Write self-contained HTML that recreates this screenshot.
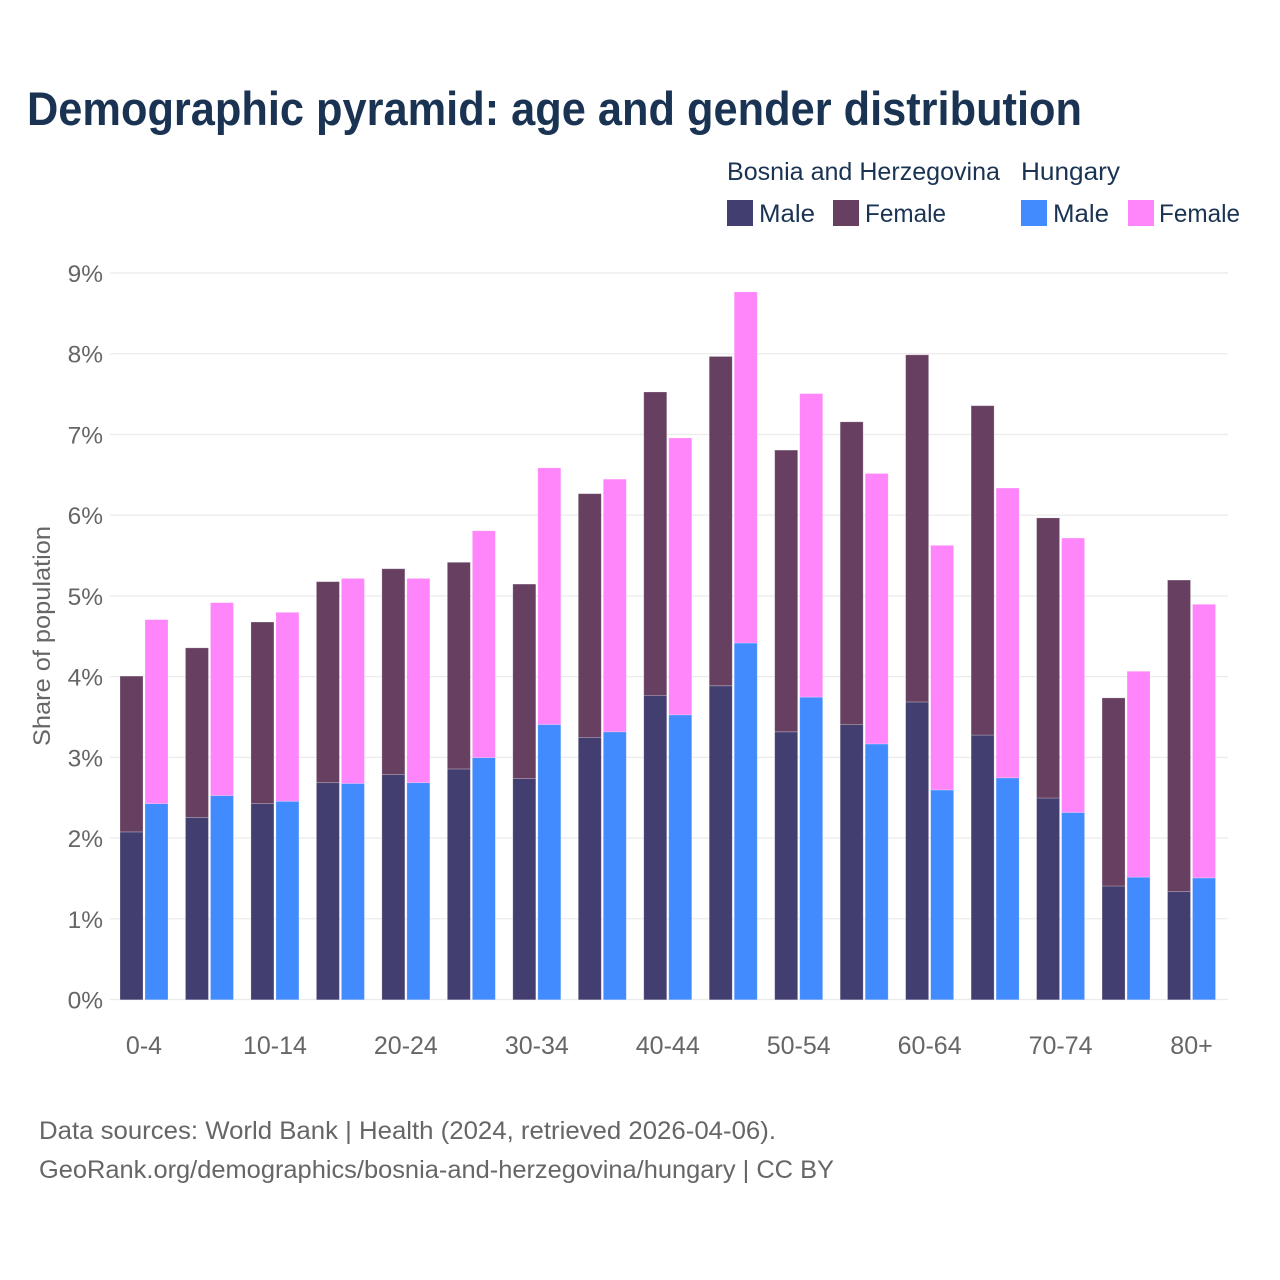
<!DOCTYPE html>
<html lang="en">
<head>
<meta charset="utf-8">
<title>Demographic pyramid: age and gender distribution</title>
<style>
html,body{margin:0;padding:0;background:#fff;}
svg{display:block;font-family:"Liberation Sans",sans-serif;}
</style>
</head>
<body>
<svg id="chart" xmlns="http://www.w3.org/2000/svg" width="1280" height="1280" viewBox="0 0 1280 1280">
  <rect x="0" y="0" width="1280" height="1280" fill="#ffffff"/>
  <text x="27" y="125" font-size="47" font-weight="700" fill="#1a3353" textLength="1055" lengthAdjust="spacingAndGlyphs">Demographic pyramid: age and gender distribution</text>

  <g font-size="25" fill="#1a3353">
    <text x="727" y="180" textLength="273" lengthAdjust="spacingAndGlyphs">Bosnia and Herzegovina</text>
    <text x="1021" y="180" textLength="99" lengthAdjust="spacingAndGlyphs">Hungary</text>
    <rect x="727" y="200" width="26" height="26" fill="#433e70"/>
    <text x="759" y="222" textLength="56" lengthAdjust="spacingAndGlyphs">Male</text>
    <rect x="833" y="200" width="26" height="26" fill="#674061"/>
    <text x="865" y="222" textLength="81" lengthAdjust="spacingAndGlyphs">Female</text>
    <rect x="1021" y="200" width="26" height="26" fill="#418bff"/>
    <text x="1053" y="222" textLength="56" lengthAdjust="spacingAndGlyphs">Male</text>
    <rect x="1128" y="200" width="26" height="26" fill="#ff85fa"/>
    <text x="1159" y="222" textLength="81" lengthAdjust="spacingAndGlyphs">Female</text>
  </g>

  <text transform="translate(50,636) rotate(-90)" text-anchor="middle" font-size="24" fill="#666666" textLength="220" lengthAdjust="spacingAndGlyphs">Share of population</text>

  <g id="grid"></g>
  <g id="y-ticks" font-size="24.5" fill="#666666" text-anchor="end"></g>
  <g id="bars"></g>
  <g id="x-ticks" font-size="25" fill="#666666" text-anchor="middle"></g>

  <g font-size="25" fill="#666666">
    <text x="39" y="1139" textLength="737" lengthAdjust="spacingAndGlyphs">Data sources: World Bank | Health (2024, retrieved 2026-04-06).</text>
    <text x="39" y="1178" textLength="795" lengthAdjust="spacingAndGlyphs">GeoRank.org/demographics/bosnia-and-herzegovina/hungary | CC BY</text>
  </g>
</svg>
<script>
const categories = ["0-4","5-9","10-14","15-19","20-24","25-29","30-34","35-39","40-44","45-49","50-54","55-59","60-64","65-69","70-74","75-79","80+"];
const xTickLabels = ["0-4","10-14","20-24","30-34","40-44","50-54","60-64","70-74","80+"];
const yTickValues = [0,1,2,3,4,5,6,7,8,9];
const bosniaMale = [2.08,2.26,2.43,2.69,2.79,2.86,2.74,3.25,3.77,3.89,3.32,3.41,3.69,3.28,2.50,1.41,1.34];
const bosniaFemale = [1.93,2.10,2.25,2.49,2.55,2.56,2.41,3.02,3.76,4.08,3.49,3.75,4.30,4.08,3.47,2.33,3.86];
const hungaryMale = [2.43,2.53,2.46,2.68,2.69,3.00,3.41,3.32,3.53,4.42,3.75,3.17,2.60,2.75,2.32,1.52,1.51];
const hungaryFemale = [2.28,2.39,2.34,2.54,2.53,2.81,3.18,3.13,3.43,4.35,3.76,3.35,3.03,3.59,3.40,2.55,3.39];

const NS = "http://www.w3.org/2000/svg";
const yScale = function (v) { return 999.5 - v * 80.72; };
const xCenter = function (i) { return 144 + i * 65.47; };
const barWidth = 23;

const gridGroup = document.getElementById("grid");
const yTickGroup = document.getElementById("y-ticks");
const barGroup = document.getElementById("bars");
const xTickGroup = document.getElementById("x-ticks");

yTickValues.forEach(function (v) {
  const line = document.createElementNS(NS, "line");
  
  
  line.setAttribute("x1", 110);
  line.setAttribute("x2", 1228);
  line.setAttribute("y1", yScale(v));
  line.setAttribute("y2", yScale(v));
  line.setAttribute("stroke", "#ebebeb");
  line.setAttribute("stroke-width", 1.25);
  gridGroup.appendChild(line);

  const label = document.createElementNS(NS, "text");
  
  
  label.setAttribute("x", 103);
  label.setAttribute("y", yScale(v) + 9);
  label.textContent = v + "%";
  yTickGroup.appendChild(label);
});

function addBar(name, x, base, value, fill) {
  const rect = document.createElementNS(NS, "rect");
  
  
  rect.setAttribute("x", x);
  rect.setAttribute("y", yScale(base + value) + 0.3);
  rect.setAttribute("width", barWidth);
  rect.setAttribute("height", yScale(base) - yScale(base + value));
  rect.setAttribute("fill", fill);
  rect.setAttribute("stroke", "#ffffff");
  rect.setAttribute("stroke-opacity", "0.3");
  rect.setAttribute("stroke-width", "0.75");
  barGroup.appendChild(rect);
}

categories.forEach(function (cat, i) {
  const c = xCenter(i);
  addBar("bar-bosnia-male-" + cat, c - 24, 0, bosniaMale[i], "#433e70");
  addBar("bar-bosnia-female-" + cat, c - 24, bosniaMale[i], bosniaFemale[i], "#674061");
  addBar("bar-hungary-male-" + cat, c + 1, 0, hungaryMale[i], "#418bff");
  addBar("bar-hungary-female-" + cat, c + 1, hungaryMale[i], hungaryFemale[i], "#ff85fa");
});

xTickLabels.forEach(function (t) {
  const label = document.createElementNS(NS, "text");
  
  
  label.setAttribute("x", xCenter(categories.indexOf(t)));
  label.setAttribute("y", 1054);
  label.textContent = t;
  xTickGroup.appendChild(label);
});
</script>
</body>
</html>
